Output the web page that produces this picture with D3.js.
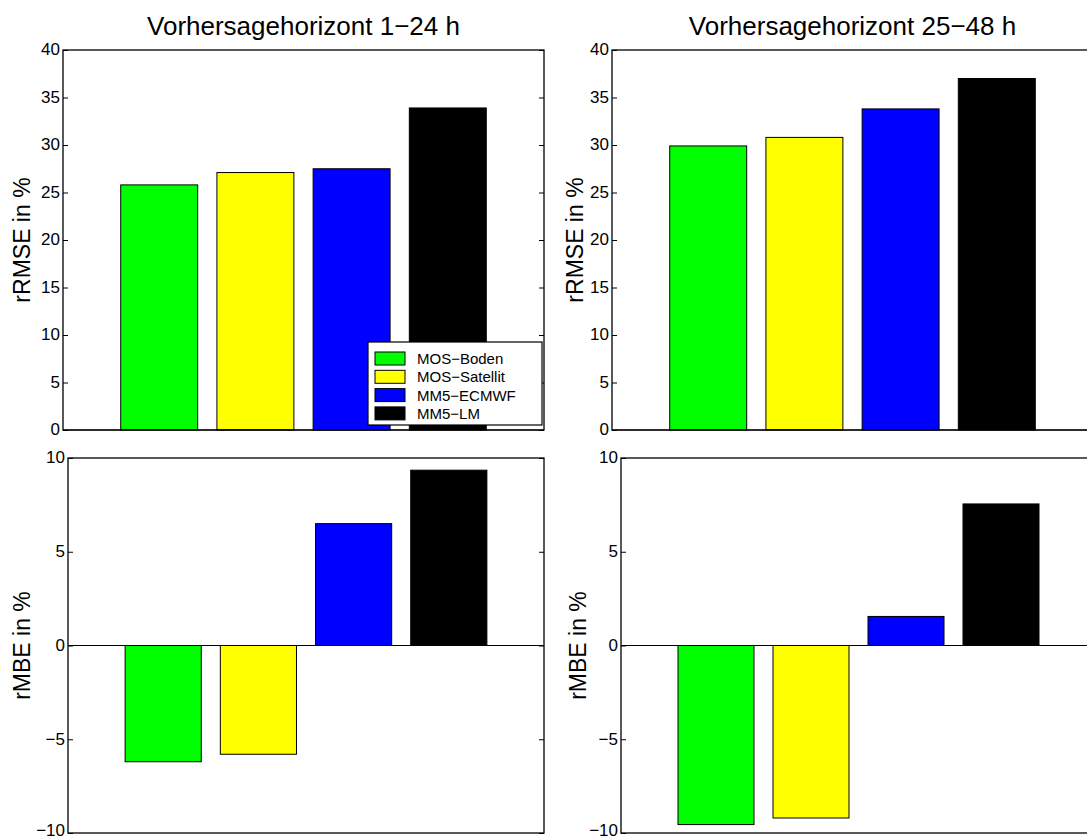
<!DOCTYPE html>
<html>
<head>
<meta charset="utf-8">
<script src="https://cdn.jsdelivr.net/npm/d3@7"></script>
<style>
  body { margin: 0; background: #fff; }
  text { font-family: "Liberation Sans", Arial, sans-serif; fill: #000; }
</style>
</head>
<body>
<main></main>
<script>
const models = ["MOS\u2212Boden", "MOS\u2212Satellit", "MM5\u2212ECMWF", "MM5\u2212LM"]
const colors = ["#00ff00", "#ffff00", "#0000ff", "#000000"]
const titles = ["Vorhersagehorizont 1\u221224 h", "Vorhersagehorizont 25\u221248 h"]
const rmse1 = [25.8, 27.1, 27.5, 33.9]
const rmse2 = [29.9, 30.8, 33.8, 37.0]
const mbe1 = [-6.2, -5.8, 6.5, 9.35]
const mbe2 = [-9.55, -9.2, 1.55, 7.55]
const rmseTicks = [0, 5, 10, 15, 20, 25, 30, 35, 40]
const mbeTicks = [-10, -5, 0, 5, 10]

const width = 1087
const height = 840

let svg = d3.select("main")
    .append("svg")
    .attr("width", width)
    .attr("height", height)

let panels = [
    { box: [63, 544, 50, 430], values: rmse1, domain: [0, 40], ticks: rmseTicks, label: "rRMSE in %", title: titles[0], lx: 22, legend: true },
    { box: [612, 1093, 50, 430], values: rmse2, domain: [0, 40], ticks: rmseTicks, label: "rRMSE in %", title: titles[1], lx: 575 },
    { box: [68, 544, 458, 833], values: mbe1, domain: [-10, 10], ticks: mbeTicks, label: "rMBE in %", lx: 22 },
    { box: [621, 1096, 458, 833], values: mbe2, domain: [-10, 10], ticks: mbeTicks, label: "rMBE in %", lx: 578 }
]

panels.forEach(p => {
    let [x0, x1, y0, y1] = p.box
    let x = d3.scaleLinear().domain([0, 5]).range([x0, x1])
    let y = d3.scaleLinear().domain(p.domain).range([y1, y0])
    let g = svg.append("g")

    g.selectAll("rect.bar")
        .data(p.values)
        .enter()
        .append("rect")
        .attr("class", "bar")
        .attr("x", (d, i) => x(i + 1 - 0.4))
        .attr("width", x(0.8) - x(0))
        .attr("y", d => y(Math.max(0, d)))
        .attr("height", d => Math.abs(y(d) - y(0)))
        .attr("fill", (d, i) => colors[i])
        .attr("stroke", "#000")
        .attr("stroke-width", 1)

    // baseline
    g.append("line")
        .attr("x1", x0).attr("x2", x1)
        .attr("y1", y(0)).attr("y2", y(0))
        .attr("stroke", "#000")

    // box
    g.append("rect")
        .attr("x", x0).attr("y", y0)
        .attr("width", x1 - x0).attr("height", y1 - y0)
        .attr("fill", "none")
        .attr("stroke", "#000")
        .attr("stroke-width", 1.3)

    g.append("g")
        .attr("transform", `translate(${x0},0)`)
        .call(d3.axisLeft(y).tickValues(p.ticks).tickSizeInner(-5).tickSizeOuter(0).tickPadding(3))
        .call(a => a.select(".domain").remove())
        .selectAll("text")
        .attr("dy", d => d === -10 ? "0.15em" : "0.28em")
        .style("font-size", "17px")
        .style("font-family", "Liberation Sans, Arial, sans-serif")

    g.append("g")
        .attr("transform", `translate(${x1},0)`)
        .call(d3.axisRight(y).tickValues(p.ticks).tickSizeInner(-5).tickSizeOuter(0).tickFormat(""))
        .call(a => a.select(".domain").remove())

    g.append("text")
        .attr("transform", `translate(${p.lx + 8},${(y0 + y1) / 2}) rotate(-90)`)
        .attr("text-anchor", "middle")
        .style("font-size", "23px")
        .text(p.label)

    if (p.title) {
        g.append("text")
            .attr("x", (x0 + x1) / 2)
            .attr("y", 35)
            .attr("text-anchor", "middle")
            .style("font-size", "26px")
            .text(p.title)
    }

    if (p.legend) {
        let lg = g.append("g").attr("transform", "translate(368,342)")
        lg.append("rect")
            .attr("width", 174).attr("height", 83)
            .attr("fill", "#fff").attr("stroke", "#000").attr("stroke-width", 1.2)
        let row = lg.selectAll("g.item")
            .data(models)
            .enter()
            .append("g")
            .attr("class", "item")
            .attr("transform", (d, i) => `translate(7,${10 + i * 18.3})`)
        row.append("rect")
            .attr("width", 30).attr("height", 13)
            .attr("fill", (d, i) => colors[i])
            .attr("stroke", "#000")
        row.append("text")
            .attr("x", 42).attr("y", 12)
            .style("font-size", "15px")
            .text(d => d)
    }
})
</script>
</body>
</html>
